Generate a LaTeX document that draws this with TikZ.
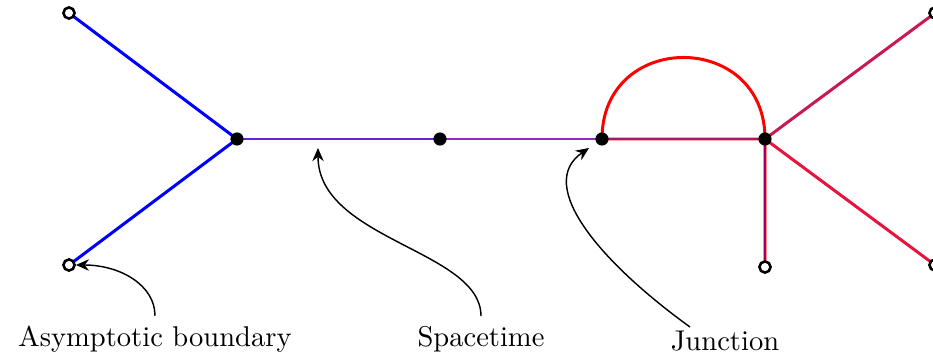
\documentclass[tikz,border=0pt]{standalone}
\usetikzlibrary{arrows.meta}
\definecolor{cA}{RGB}{105,35,215}
\definecolor{cB}{RGB}{150,45,185}
\definecolor{cC}{RGB}{165,25,105}
\definecolor{cUp}{RGB}{200,25,85}
\definecolor{cV}{RGB}{160,0,90}
\definecolor{cLo}{RGB}{228,20,60}
\begin{document}
\begin{tikzpicture}[x=0.35pt,y=-0.35pt,
  dot/.style={circle,fill=black,inner sep=0pt,minimum size=4.6pt},
  bnd/.style={circle,draw=black,fill=white,line width=0.9pt,inner sep=0pt,minimum size=3.9pt},
  thickedge/.style={line width=1.05pt},
  thinedge/.style={line width=0.7pt},
  callout/.style={-{Stealth[length=4.6pt,width=4pt]},line width=0.5pt},
  lbl/.style={font=\normalsize}]
\useasboundingbox (0,0) rectangle (933,354);
% positions
\coordinate (b1) at (69,13);
\coordinate (b2) at (69,265);
\coordinate (j1) at (237,139);
\coordinate (m) at (440,139);
\coordinate (j2) at (602,139);
\coordinate (j3) at (765,139);
\coordinate (b3) at (765,267);
\coordinate (b4) at (935,13);
\coordinate (b5) at (935,265);
% edges
\draw[thickedge,blue] (b1) -- (j1);
\draw[thickedge,blue] (b2) -- (j1);
\draw[thinedge,cA] (j1) -- (m);
\draw[thinedge,cB] (m) -- (j2);
\draw[line width=1.2pt,red!35] (j2) -- (j3);
\draw[line width=0.55pt,cC] (j2) -- (j3);
\draw[thickedge,red] (j2) .. controls (602,30.3) and (765,30.3) .. (j3);
\draw[thickedge,cUp] (j3) -- (b4);
\draw[thickedge,cLo] (j3) -- (b5);
\draw[line width=1.2pt,red!45] (j3) -- (b3);
\draw[line width=0.6pt,cV] (j3) -- (b3);
% dots
\node[dot] (J1) at (j1) {};
\node[dot] (M) at (m) {};
\node[dot] (J2) at (j2) {};
\node[dot] (J3) at (j3) {};
\node[bnd] (B1) at (b1) {};
\node[bnd] (B2) at (b2) {};
\node[bnd] (B3) at (b3) {};
\node[bnd] (B4) at (b4) {};
\node[bnd] (B5) at (b5) {};
% labels
\node[lbl] (LA) at (155,339) {Asymptotic boundary};
\node[lbl] (LS) at (481,339) {Spacetime};
\node[lbl] (LJ) at (725,341) {Junction};
\coordinate (sT) at (318,148);
\coordinate (jS) at (690,327);
\coordinate (jT) at (589,148);
% callouts
\draw[callout] (LA.north) .. controls (155,285) and (120,265) .. (B2.east);
\draw[callout] (LS.north) .. controls (481,250) and (318,240) .. (sT);
\draw[callout] (jS) .. controls (600,262) and (535,185) .. (jT);
\end{tikzpicture}
\end{document}
